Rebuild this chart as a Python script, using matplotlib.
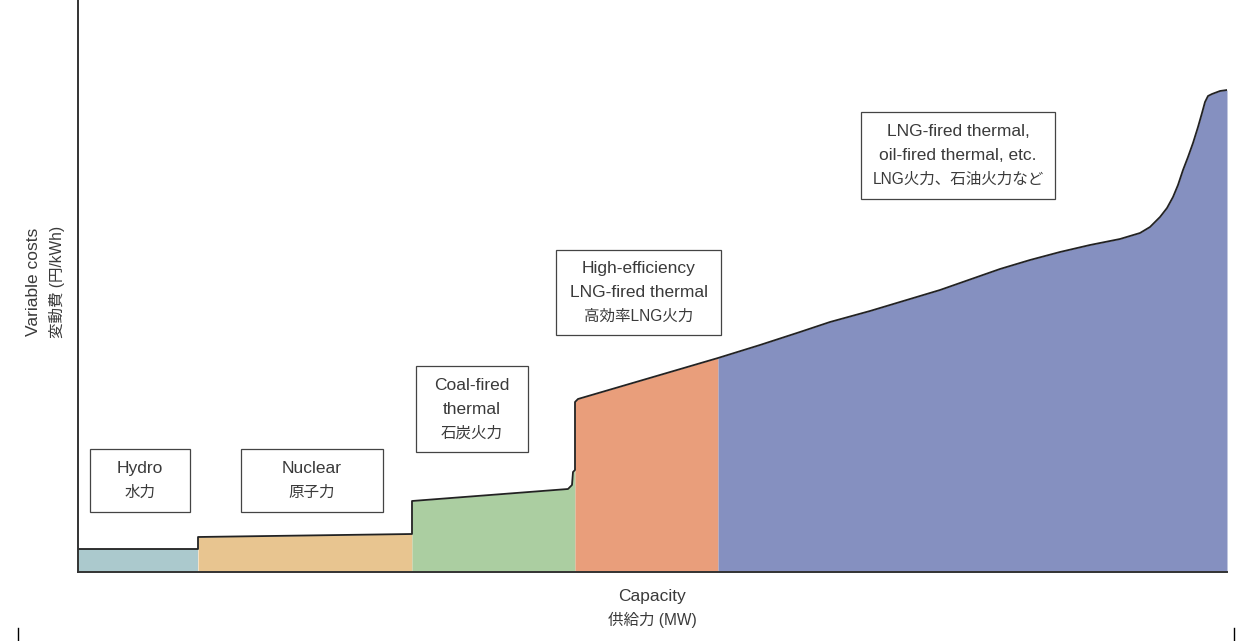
"""Merit order curve: variable cost vs capacity by generation type."""

import matplotlib.pyplot as plt
from matplotlib.lines import Line2D
from matplotlib.patches import Rectangle

plt.rcParams["font.family"] = ["Liberation Sans", "Noto Sans CJK JP", "DejaVu Sans"]

# capacity (arbitrary units) / variable cost (arbitrary units)
hydro_x = [0.0, 12.0]
hydro_y = [2.3, 2.3]

nuclear_x = [12.0, 33.4]
nuclear_y = [3.5, 3.8]

coal_x = [33.4, 49.0, 49.4, 49.5, 49.7]
coal_y = [7.1, 8.3, 8.7, 10.0, 10.2]

hel_x = [49.7, 50.0, 64.0]
hel_y = [17.0, 17.3, 21.4]

lng_x = [64.0, 68.2, 72.2, 75.2, 79.2, 82.2, 86.2, 90.2, 92.2, 95.2,
         98.2, 101.2, 104.2, 106.2, 107.2, 108.2, 108.9, 109.5, 110.0, 110.5,
         111.0, 111.5, 112.0, 112.4, 112.7, 113.0, 113.4, 114.2, 114.9]
lng_y = [21.4, 22.7, 24.0, 25.0, 26.1, 27.0, 28.2, 29.6, 30.3, 31.2,
         32.0, 32.7, 33.3, 33.9, 34.5, 35.5, 36.4, 37.5, 38.7, 40.2,
         41.5, 42.9, 44.5, 45.9, 47.0, 47.6, 47.8, 48.1, 48.2]

segments = [
    (hydro_x, hydro_y, "#abc9cd"),
    (nuclear_x, nuclear_y, "#e8c590"),
    (coal_x, coal_y, "#abcea1"),
    (hel_x, hel_y, "#e99e7b"),
    (lng_x, lng_y, "#8590c0"),
]

# label boxes: (x0, y0, x1, y1) in data units, English lines, Japanese line
boxes = [
    ((1.2, 6.0, 11.2, 12.3), ["Hydro"], "水力"),
    ((16.3, 6.0, 30.5, 12.3), ["Nuclear"], "原子力"),
    ((33.8, 12.0, 45.0, 20.6), ["Coal-fired", "thermal"], "石炭火力"),
    ((47.8, 23.7, 64.3, 32.2), ["High-efficiency", "LNG-fired thermal"], "高効率LNG火力"),
    ((78.3, 37.3, 97.7, 46.0), ["LNG-fired thermal,", "oil-fired thermal, etc."],
     "LNG火力、石油火力など"),
]

TXT = "#3a3a3a"
EN_SIZE = 12.5
JA_SIZE = 11.2
LINE_PX = 24


def stacked_text(ax, x, y, en_lines, ja_line, transform, rotation=0):
    lines = [(s, EN_SIZE) for s in en_lines] + [(ja_line, JA_SIZE)]
    n = len(lines)
    for i, (s, size) in enumerate(lines):
        off = ((n - 1) / 2 - i) * LINE_PX * 0.72  # points
        xy_off = (-off, 0) if rotation else (0, off)
        ax.annotate(s, xy=(x, y), xycoords=transform, xytext=xy_off,
                    textcoords="offset points", ha="center", va="center",
                    fontsize=size, color=TXT, rotation=rotation)


W, H = 1238, 641
fig = plt.figure(figsize=(W / 100, H / 100), dpi=100)
ax = fig.add_axes([78 / W, (H - 572) / H, 1149 / W, 572 / H])

outline_x, outline_y = [], []
for xs, ys, color in segments:
    ax.fill_between(xs, ys, 0, color=color, linewidth=0)
    outline_x += xs
    outline_y += ys
ax.plot(outline_x, outline_y, color="#222222", lw=1.3, solid_joinstyle="round")

for (x0, y0, x1, y1), en, ja in boxes:
    ax.add_patch(Rectangle((x0, y0), x1 - x0, y1 - y0, facecolor="white",
                           edgecolor="#444444", lw=0.9))
    stacked_text(ax, (x0 + x1) / 2, (y0 + y1) / 2, en, ja, "data")

ax.set_xlim(0, 114.9)
ax.set_ylim(0, 57.2)
ax.set_xticks([])
ax.set_yticks([])
for side in ("top", "right"):
    ax.spines[side].set_visible(False)
for side in ("left", "bottom"):
    ax.spines[side].set_color("#333333")
    ax.spines[side].set_linewidth(1.4)

stacked_text(ax, 652 / W, 1 - 608 / H, ["Capacity"], "供給力 (MW)", fig.transFigure)
stacked_text(ax, 45 / W, 1 - 282 / H, ["Variable costs"], "変動費 (円/kWh)",
             fig.transFigure, rotation=90)

# crop marks
for px in (18, 1234):
    fig.add_artist(Line2D([px / W, px / W], [0, 13 / H], color="black", lw=1))

plt.savefig("out.png", dpi=100)
